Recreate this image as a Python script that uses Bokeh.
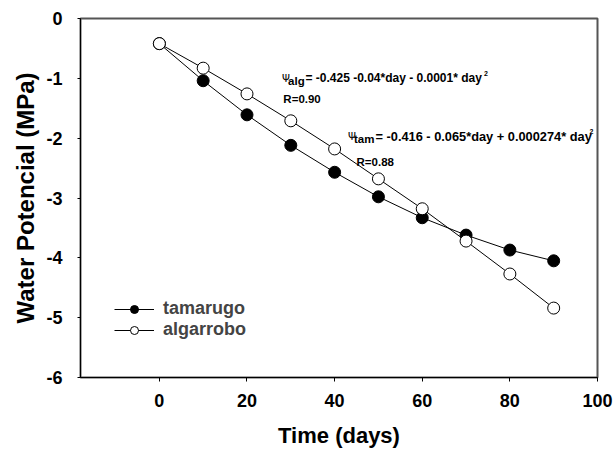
from bokeh.plotting import figure
from bokeh.models import Label, Legend, LegendItem, FixedTicker, Range1d, ColumnDataSource
from bokeh.embed import file_html
from bokeh.resources import INLINE

# ---- data ----
days = [0, 10, 20, 30, 40, 50, 60, 70, 80, 90]
tamarugo = [-0.42, -1.04, -1.61, -2.12, -2.57, -2.98, -3.33, -3.62, -3.87, -4.05]
algarrobo = [-0.42, -0.83, -1.26, -1.71, -2.18, -2.68, -3.18, -3.72, -4.27, -4.84]
x_ticks = [0, 20, 40, 60, 80, 100]
y_ticks = [0, -1, -2, -3, -4, -5, -6]
series_names = ["tamarugo", "algarrobo"]

FONT = "Liberation Sans"

p = figure(width=614, height=450, x_range=Range1d(-18, 100), y_range=Range1d(-6, 0),
           output_backend="svg", toolbar_location=None,
           min_border_left=80, min_border_right=17, min_border_top=18, min_border_bottom=70)
p.grid.visible = False
p.outline_line_color = "#555555"
p.outline_line_width = 2
p.background_fill_color = "white"
p.border_fill_color = "white"

for ax in (p.xaxis[0], p.yaxis[0]):
    ax.major_tick_in = 0
    ax.minor_tick_in = 0
    ax.minor_tick_out = 0
    ax.axis_line_color = "black"
    ax.axis_line_width = 1
    ax.major_tick_line_color = "black"
    ax.major_label_text_font = FONT
    ax.major_label_text_font_style = "bold"
    ax.major_label_text_font_size = "18px"
    ax.major_label_text_color = "black"
    ax.axis_label_text_font = FONT
    ax.axis_label_text_font_style = "bold"
    ax.axis_label_text_color = "black"

p.xaxis.ticker = FixedTicker(ticks=x_ticks)
p.yaxis.ticker = FixedTicker(ticks=y_ticks)
p.xaxis.major_label_overrides = {t: str(t) for t in x_ticks}
p.yaxis.major_label_overrides = {t: str(t) for t in y_ticks}
p.xaxis.major_tick_out = 4
p.yaxis.major_tick_out = 3
p.xaxis.major_label_standoff = 12
p.yaxis.major_label_standoff = 15
p.xaxis.axis_label = "Time (days)"
p.yaxis.axis_label = "Water Potencial (MPa)"
p.xaxis.axis_label_text_font_size = "22px"
p.yaxis.axis_label_text_font_size = "24px"
p.xaxis.axis_label_standoff = 13
p.yaxis.axis_label_standoff = 4

src = ColumnDataSource(dict(days=days, tam=tamarugo, alg=algarrobo))

l1 = p.line("days", "tam", source=src, line_color="black", line_width=1)
l2 = p.line("days", "alg", source=src, line_color="black", line_width=1)
s1 = p.scatter("days", "tam", source=src, size=12, fill_color="black", line_color="black", line_width=1)
s2 = p.scatter("days", "alg", source=src, size=12, fill_color="white", line_color="black", line_width=1)

legend = Legend(items=[LegendItem(label=series_names[0], renderers=[l1, s1]),
                       LegendItem(label=series_names[1], renderers=[l2, s2])],
                location=(34, 37), glyph_width=40, glyph_height=20, label_standoff=9,
                padding=0, margin=0, spacing=0,
                label_text_font=FONT, label_text_font_style="bold", label_text_font_size="18px",
                border_line_alpha=0, background_fill_alpha=0)
p.add_layout(legend)

# ---- annotations ----
def equation(x, y, sub, rest, size, sub_dx, rest_dx, sup_dx):
    common = dict(x=x, y=y, text_baseline="alphabetic", text_color="black")
    p.add_layout(Label(text="\u03a8", text_font="DejaVu Sans", text_font_size="10px", **common))
    p.add_layout(Label(text=sub, x_offset=sub_dx, y_offset=-2.5, text_font=FONT,
                       text_font_style="bold", text_font_size="11.5px", **common))
    p.add_layout(Label(text=rest, x_offset=rest_dx, text_font=FONT,
                       text_font_style="bold", text_font_size=size, **common))
    p.add_layout(Label(text="2", x_offset=sup_dx, y_offset=5, text_font=FONT,
                       text_font_style="bold", text_font_size="7px", **common))

equation(28.0, -1.0, "alg", "= -0.425 -0.04*day - 0.0001* day", "12px", 6.0, 23.4, 202.0)
equation(43.05, -1.967, "tam", "= -0.416 - 0.065*day + 0.000274* day", "12.8px", 6.0, 27.5, 241.5)

for x, y, t in [(28.3, -1.344, "R=0.90"), (45.0, -2.39, "R=0.88")]:
    p.add_layout(Label(x=x, y=y, text=t, text_baseline="alphabetic", text_font=FONT,
                       text_font_style="bold", text_font_size="11.5px", text_color="black"))

open("out.html", "w").write(file_html(p, INLINE))
